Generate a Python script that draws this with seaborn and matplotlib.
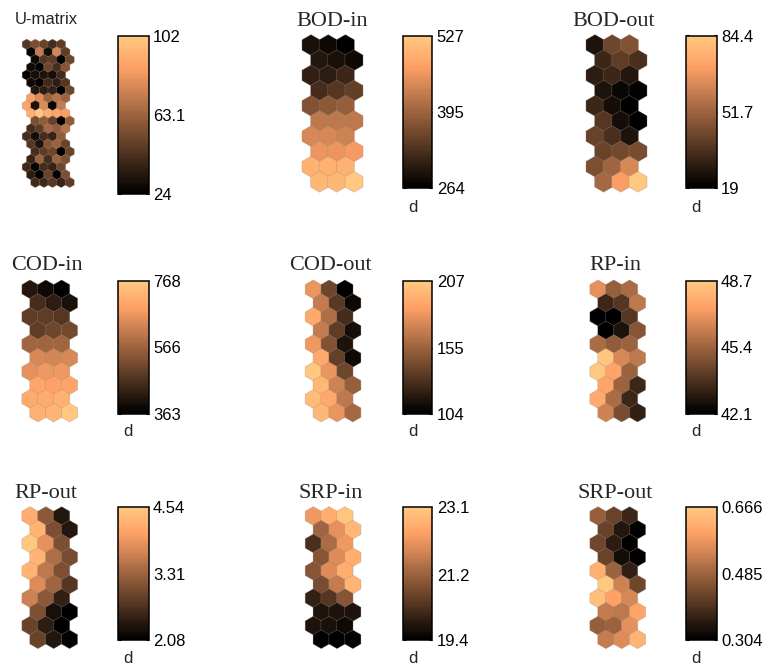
import numpy as np
import pandas as pd
import matplotlib
matplotlib.use("Agg")
import matplotlib.pyplot as plt
from matplotlib.cm import ScalarMappable
from matplotlib.colors import Normalize
import seaborn as sns

u_matrix = [
    45, 55, 50, 42, 48,
    26, 72, 30, 76, 48,
    28, 45, 48, 24, 52,
    28, 26, 52, 42, 58,
    26, 30, 32, 30, 40,
    28, 26, 40, 35, 45,
    33, 35, 38, 24, 52,
    85, 78, 62, 68, 62,
    88, 32, 78, 27, 72,
    92, 102, 92, 88, 85,
    55, 60, 50, 24, 60,
    42, 48, 65, 60, 68,
    42, 30, 42, 38, 60,
    45, 32, 58, 62, 50,
    42, 48, 52, 24, 50,
    38, 62, 42, 62, 55,
    40, 26, 42, 38, 52,
    35, 24, 50, 26, 55,
    40, 40, 45, 38, 48,
]
bod_in = [
    285, 277, 264,
    295, 285, 280,
    309, 301, 317,
    322, 335, 348,
    374, 382, 388,
    422, 422, 422,
    443, 443, 435,
    461, 461, 469,
    495, 495, 495,
    506, 506, 527,
]
bod_out = [
    25.5, 42, 46.5,
    32, 38.6, 35,
    29, 32, 27,
    25.5, 22, 21,
    32, 24, 19,
    36.7, 24, 19,
    40.6, 35, 25.5,
    40.6, 43, 44,
    45, 52, 63.5,
    53, 71, 84.4,
]
cod_in = [
    412, 387, 363,
    452, 424, 399,
    484, 484, 472,
    484, 505, 513,
    566, 566, 566,
    638, 630, 638,
    655, 667, 667,
    695, 687, 695,
    707, 707, 719,
    719, 727, 768,
]
cod_out = [
    180, 140, 104,
    168, 133, 109,
    190, 161, 127,
    168, 135, 112,
    182, 147, 114,
    190, 137, 109,
    207, 180, 140,
    198, 170, 153,
    200, 190, 166,
    198, 180, 158,
]
rp_in = [
    46.9, 45.2, 45.7,
    43.4, 43.9, 46.1,
    42.1, 42.1, 43.9,
    42.1, 42.8, 44.9,
    45.7, 45.1, 45.3,
    48.5, 46.6, 46.1,
    48.7, 47.5, 45.4,
    47.5, 45.4, 43.4,
    47.7, 45.7, 43.4,
    46.4, 44.6, 43.2,
]
rp_out = [
    4.22, 3.19, 2.38,
    4.29, 3.06, 2.38,
    4.54, 3.85, 3.06,
    4.29, 3.43, 3.01,
    4.29, 3.56, 3.06,
    3.80, 3.31, 2.77,
    3.68, 3.19, 2.50,
    3.06, 2.28, 2.08,
    2.89, 2.45, 2.08,
    2.89, 2.38, 2.15,
]
srp_in = [
    22.2, 22.6, 23.0,
    21.3, 22.1, 22.8,
    20.3, 21.4, 22.2,
    21.0, 22.0, 22.6,
    21.0, 22.0, 22.6,
    20.8, 21.7, 22.7,
    20.0, 20.4, 21.0,
    19.8, 19.8, 19.8,
    19.8, 19.7, 19.6,
    19.4, 19.4, 19.5,
]
srp_out = [
    0.478, 0.423, 0.376,
    0.423, 0.347, 0.304,
    0.431, 0.358, 0.304,
    0.423, 0.329, 0.304,
    0.623, 0.485, 0.366,
    0.666, 0.539, 0.431,
    0.648, 0.594, 0.550,
    0.528, 0.521, 0.601,
    0.474, 0.485, 0.565,
    0.528, 0.557, 0.630,
]

titles = ["U-matrix", "BOD-in", "BOD-out", "COD-in", "COD-out", "RP-in", "RP-out", "SRP-in", "SRP-out"]
mapas = [u_matrix, bod_in, bod_out, cod_in, cod_out, rp_in, rp_out, srp_in, srp_out]
ticks = [
    [24, 63.1, 102], [264, 395, 527], [19, 51.7, 84.4],
    [363, 566, 768], [104, 155, 207], [42.1, 45.4, 48.7],
    [2.08, 3.31, 4.54], [19.4, 21.2, 23.1], [0.304, 0.485, 0.666],
]
tick_labels = [
    ["24", "63.1", "102"], ["264", "395", "527"], ["19", "51.7", "84.4"],
    ["363", "566", "768"], ["104", "155", "207"], ["42.1", "45.4", "48.7"],
    ["2.08", "3.31", "4.54"], ["19.4", "21.2", "23.1"], ["0.304", "0.485", "0.666"],
]

W, H = 768, 671
sns.set_style("white")
plt.rcParams["font.family"] = ["Liberation Sans", "DejaVu Sans"]
cmap = plt.get_cmap("copper", 64)

# posiciones en pixeles de cada panel
x_hex = [26.7, 311, 595, 30, 313.3, 598, 30, 313.3, 598]
y_hex = [44.3, 45, 45, 289.3, 289.3, 289.3, 516, 516, 516]
x_bar = [118, 402.7, 686, 118, 402.7, 686, 118, 402.7, 686]
bar_w = [30.7, 29.5, 30.7, 30.5, 29.5, 30.5, 30.5, 29.5, 30.5]
y_bar = [(35.7, 194), (35.5, 188), (35.5, 188),
         (280.7, 413.7), (280.7, 413.7), (280.7, 413.7),
         (507, 640), (507, 640), (507, 640)]
x_title = [46, 332, 614, 46.7, 330, 615, 45.6, 331, 614.8]
y_title = [19, 22, 22, 266, 266, 266, 493.5, 493.5, 493.5]
x_d = [None, 412.7, 696, 128, 412.7, 696, 128, 412.7, 696]
y_d = [None, 207, 207, 431.7, 431.7, 431.7, 658.7, 658.7, 658.7]


def rect(x0, y0, x1, y1):
    return [x0 / W, 1 - y1 / H, (x1 - x0) / W, (y1 - y0) / H]


fig = plt.figure(figsize=(W / 100, H / 100), dpi=100)

for i, valores in enumerate(mapas):
    if i == 0:
        nrow, ncol, px, py, shift = 19, 5, 8.6, 7.67, [0, 0.5, 1, 0.5]
    elif i < 3:
        nrow, ncol, px, py, shift = 10, 3, 17.2, 15.2, [0, 0.5]
    else:
        nrow, ncol, px, py, shift = 10, 3, 15.8, 13.7, [0, 0.5]

    filas = np.repeat(np.arange(nrow), ncol)
    columnas = np.tile(np.arange(ncol), nrow) + np.array([shift[f % len(shift)] for f in filas])
    df = pd.DataFrame({"col": columnas, "fila": filas, "valor": valores})

    ax = fig.add_axes(rect(x_hex[i] - px, y_hex[i] - py,
                           x_hex[i] + px * (ncol + 1), y_hex[i] + py * nrow))
    radio = py * 2 / 3 * 0.72 * 1.03
    sns.scatterplot(data=df, x="col", y="fila", hue="valor", palette=cmap,
                    hue_norm=(ticks[i][0], ticks[i][2]), marker="h", s=(2 * radio) ** 2,
                    linewidth=0.4, edgecolor=(0.6, 0.55, 0.5, 0.5), legend=False, ax=ax, clip_on=False)
    ax.set_xlim(-1, ncol + 1)
    ax.set_ylim(nrow, -1)
    ax.axis("off")

    # barra de color
    cax = fig.add_axes(rect(x_bar[i], y_bar[i][0], x_bar[i] + bar_w[i], y_bar[i][1]))
    sm = ScalarMappable(norm=Normalize(ticks[i][0], ticks[i][2]), cmap=cmap)
    cb = fig.colorbar(sm, cax=cax)
    cb.outline.set_linewidth(1.1)
    cb.outline.set_edgecolor("black")
    cb.set_ticks(ticks[i])
    cb.set_ticklabels(tick_labels[i])
    cax.tick_params(axis="y", which="major", direction="in", left=True, right=True,
                    length=2.5, width=0.8, pad=3.2, labelsize=12, colors="black")
    cax.set_yticks([ticks[i][0], ticks[i][2]], minor=True)
    cax.tick_params(axis="y", which="minor", direction="out", left=False, right=True,
                    length=2.5, width=1.0, color="black")

    if i == 0:
        fig.text(x_title[i] / W, 1 - y_title[i] / H, titles[i], ha="center", va="center", fontsize=12)
    else:
        fig.text(x_title[i] / W, 1 - y_title[i] / H, titles[i], ha="center", va="center",
                 fontsize=16, family=["Liberation Serif", "DejaVu Serif"])
        fig.text(x_d[i] / W, 1 - y_d[i] / H, "d", ha="center", va="center", fontsize=12)

fig.savefig("out.png", dpi=100, facecolor="white")
